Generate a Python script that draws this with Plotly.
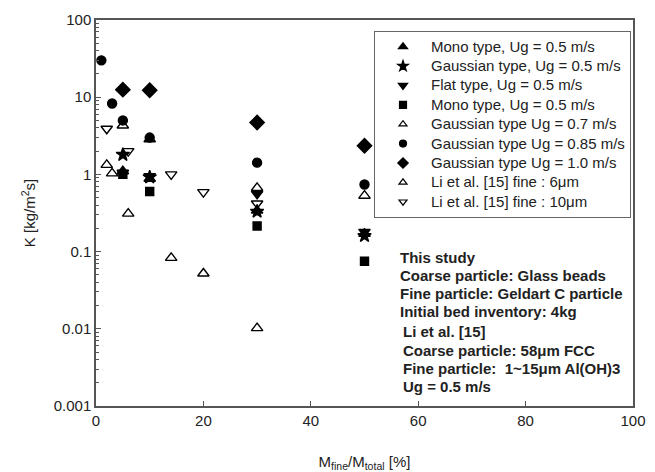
import plotly.graph_objects as go

# ---- data ----
mono_tri_x = [5, 10, 30, 50]
mono_tri_y = [1.1, 0.88, 0.34, 0.17]

gauss05_x = [5, 10, 30, 50]
gauss05_y = [1.8, 0.92, 0.33, 0.16]

flat_x = [5, 10, 30, 50]
flat_y = [1.05, 0.95, 0.56, 0.18]

mono_sq_x = [5, 10, 30, 50]
mono_sq_y = [1.0, 0.6, 0.215, 0.075]

gauss07_x = [5, 10, 30, 50]
gauss07_y = [4.3, 2.85, 0.67, 0.53]

gauss085_x = [1, 3, 5, 10, 30, 50]
gauss085_y = [30, 8.3, 5.0, 3.0, 1.42, 0.74]

gauss10_x = [5, 10, 30, 50]
gauss10_y = [12.5, 12.3, 4.7, 2.35]

li6_x = [2, 3, 6, 14, 20, 30]
li6_y = [1.33, 1.03, 0.31, 0.083, 0.052, 0.0102]

li10_x = [2, 6, 14, 20, 30]
li10_y = [3.9, 2.0, 1.0, 0.59, 0.42]

series = [
    ("Mono type, Ug = 0.5 m/s", mono_tri_x, mono_tri_y, "triangle-up", 10, 8),
    ("Gaussian type, Ug = 0.5 m/s", gauss05_x, gauss05_y, "star", 10, 8),
    ("Flat type, Ug = 0.5 m/s", flat_x, flat_y, "triangle-down", 10, 8),
    ("Mono type, Ug = 0.5 m/s", mono_sq_x, mono_sq_y, "square", 8, 7),
    ("Gaussian type Ug = 0.7 m/s", gauss07_x, gauss07_y, "triangle-up-open", 10, 7),
    ("Gaussian type Ug = 0.85 m/s", gauss085_x, gauss085_y, "circle", 9, 7),
    ("Gaussian type Ug = 1.0 m/s", gauss10_x, gauss10_y, "diamond", 11, 8),
    ("Li et al. [15] fine : 6μm", li6_x, li6_y, "triangle-up-open", 10, 7),
    ("Li et al. [15] fine : 10μm", li10_x, li10_y, "triangle-down-open", 10, 7),
]

note1 = ["This study", "Coarse particle: Glass beads",
         "Fine particle: Geldart C particle", "Initial bed inventory: 4kg"]
note2 = ["Li et al. [15]", "Coarse particle: 58μm FCC",
         "Fine particle:  1~15μm Al(OH)3", "Ug = 0.5 m/s"]

FONT = "Arial, Liberation Sans, sans-serif"
TXT = "#222222"
AX = "#555555"

fig = go.Figure()
for name, xs, ys, sym, sz, lsz in series:
    fig.add_trace(go.Scatter(
        x=xs, y=ys, mode="markers", showlegend=False,
        marker=dict(symbol=sym, size=sz, color="black",
                    line=dict(color="black", width=1.4)),
    ))
# legend entries (smaller symbols, as in the reference legend)
for name, xs, ys, sym, sz, lsz in series:
    fig.add_trace(go.Scatter(
        x=[None], y=[None], mode="markers",
        name=f'<span style="font-size:15px">{name}</span>',
        marker=dict(symbol=sym, size=lsz, color="black",
                    line=dict(color="black", width=1.2)),
    ))

# figure geometry (pixels)
W, H = 655, 472
ML, MR, MT, MB = 96, 22, 20, 66
PH = H - MT - MB
PW = W - ML - MR

def py(ypx):
    return 1 - (ypx - MT) / PH

def px(xpx):
    return (xpx - ML) / PW

annotations = []
for i, t in enumerate(note1):
    annotations.append(dict(x=px(398), y=py(257 + 18 * i), xref="paper", yref="paper",
                            text=f"<b>{t}</b>", showarrow=False, xanchor="left", yanchor="middle",
                            font=dict(size=15, color=TXT, family=FONT)))
for i, t in enumerate(note2):
    annotations.append(dict(x=px(400.5), y=py(331.7 + 18.3 * i), xref="paper", yref="paper",
                            text=f"<b>{t}</b>", showarrow=False, xanchor="left", yanchor="middle",
                            font=dict(size=15, color=TXT, family=FONT)))

fig.update_layout(
    width=W, height=H,
    margin=dict(l=ML, r=MR, t=MT, b=MB, autoexpand=False),
    paper_bgcolor="white", plot_bgcolor="white",
    font=dict(family=FONT, size=15, color=TXT),
    showlegend=True,
    legend=dict(x=px(374), y=py(31), xanchor="left", yanchor="top",
                bordercolor="#666666", borderwidth=1, bgcolor="white",
                font=dict(size=12.6, family=FONT, color=TXT),
                itemsizing="trace", itemwidth=46),
    annotations=annotations,
    xaxis=dict(range=[0, 100], dtick=20, tick0=0, automargin=False,
               showline=True, mirror=True, linecolor=AX, linewidth=1.5,
               ticks="inside", ticklen=5, tickcolor=AX, tickwidth=1.2,
               showgrid=False, zeroline=False,
               tickfont=dict(size=15, color=TXT),
               title=dict(text="M<sub>fine</sub>/M<sub>total</sub> [%]",
                          font=dict(size=15, color=TXT), standoff=29)),
    yaxis=dict(type="log", range=[-3, 2], dtick=1, automargin=False,
               showline=True, mirror=True, linecolor=AX, linewidth=1.5,
               ticks="inside", ticklen=5, tickcolor=AX, tickwidth=1.2,
               minor=dict(ticks="inside", ticklen=3, tickcolor=AX, tickwidth=1, dtick="D1", showgrid=False),
               showgrid=False, zeroline=False,
               tickfont=dict(size=15, color=TXT),
               title=dict(text="K [kg/m<sup>2</sup>s]",
                          font=dict(size=15, color=TXT), standoff=14)),
)

fig.write_html("out.html")
